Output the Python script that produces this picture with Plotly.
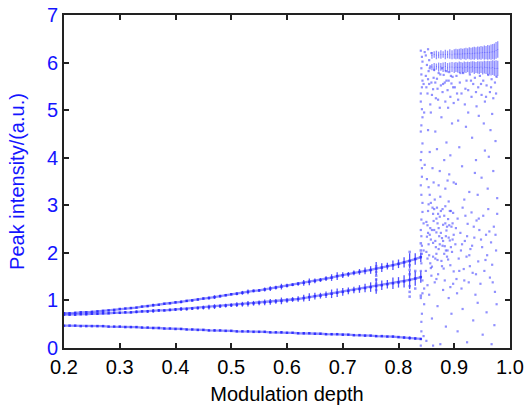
import plotly.graph_objects as go

# ---------------- data ----------------
branch_x = [round(0.20 + 0.01 * i, 2) for i in range(65)]

upper_y = [0.73, 0.73, 0.74, 0.75, 0.75, 0.76, 0.77, 0.78, 0.79, 0.80,
           0.82, 0.83, 0.84, 0.85, 0.87, 0.88, 0.90, 0.91, 0.93, 0.94,
           0.96, 0.97, 0.99, 1.00, 1.02, 1.04, 1.05, 1.07, 1.09, 1.11,
           1.13, 1.14, 1.16, 1.18, 1.20, 1.21, 1.23, 1.25, 1.27, 1.29,
           1.31, 1.33, 1.35, 1.37, 1.39, 1.41, 1.43, 1.46, 1.48, 1.51,
           1.53, 1.55, 1.58, 1.60, 1.62, 1.64, 1.67, 1.69, 1.72, 1.74,
           1.77, 1.80, 1.83, 1.87, 1.91]
upper_spread = [0.01] * 10 + \
    [0.01, 0.01, 0.01, 0.01, 0.01, 0.02, 0.03, 0.01, 0.01, 0.01,
     0.02, 0.03, 0.02, 0.02, 0.02, 0.02, 0.03, 0.04, 0.03, 0.02,
     0.02, 0.03, 0.04, 0.05, 0.03, 0.03, 0.04, 0.05, 0.04, 0.06,
     0.04, 0.03, 0.04, 0.06, 0.07, 0.05, 0.04, 0.05, 0.07, 0.08,
     0.06, 0.05, 0.05, 0.06, 0.07, 0.08, 0.14, 0.09, 0.07, 0.10,
     0.09, 0.11, 0.16, 0.12, 0.10]

middle_y = [0.70, 0.70, 0.70, 0.71, 0.71, 0.72, 0.72, 0.73, 0.73, 0.74,
            0.74, 0.75, 0.75, 0.76, 0.77, 0.77, 0.78, 0.79, 0.79, 0.80,
            0.81, 0.82, 0.82, 0.83, 0.84, 0.85, 0.86, 0.87, 0.88, 0.89,
            0.90, 0.91, 0.92, 0.93, 0.94, 0.95, 0.96, 0.97, 0.98, 0.99,
            1.00, 1.02, 1.03, 1.05, 1.07, 1.09, 1.10, 1.12, 1.14, 1.16,
            1.18, 1.20, 1.22, 1.24, 1.26, 1.28, 1.30, 1.32, 1.34, 1.36,
            1.38, 1.40, 1.43, 1.46, 1.49]
middle_spread = [0.01, 0.01, 0.01, 0.01, 0.02, 0.01, 0.02, 0.02, 0.01, 0.02,
                 0.02, 0.02, 0.02, 0.03, 0.02, 0.03, 0.04, 0.03, 0.02, 0.03,
                 0.03, 0.04, 0.03, 0.03, 0.03, 0.04, 0.05, 0.05, 0.04, 0.04,
                 0.04, 0.05, 0.05, 0.06, 0.05, 0.05, 0.06, 0.06, 0.05, 0.07,
                 0.05, 0.05, 0.06, 0.07, 0.08, 0.07, 0.06, 0.07, 0.09, 0.09,
                 0.08, 0.07, 0.07, 0.08, 0.09, 0.10, 0.16, 0.10, 0.09, 0.12,
                 0.11, 0.13, 0.19, 0.15, 0.12]

lower_y = [0.47, 0.47, 0.47, 0.46, 0.46, 0.46, 0.46, 0.46, 0.45, 0.45,
           0.45, 0.44, 0.44, 0.44, 0.43, 0.43, 0.42, 0.42, 0.41, 0.41,
           0.40, 0.40, 0.39, 0.39, 0.38, 0.38, 0.37, 0.37, 0.37, 0.36,
           0.36, 0.35, 0.35, 0.35, 0.34, 0.34, 0.34, 0.33, 0.33, 0.33,
           0.32, 0.32, 0.31, 0.31, 0.31, 0.30, 0.30, 0.29, 0.29, 0.29,
           0.28, 0.28, 0.27, 0.27, 0.26, 0.26, 0.25, 0.25, 0.24, 0.24,
           0.23, 0.22, 0.21, 0.20, 0.19]
lower_spread = [0.005, 0.0, 0.005, 0.0, 0.005, 0.0, 0.005, 0.01, 0.005, 0.01,
                0.01, 0.01, 0.01, 0.01, 0.01, 0.01, 0.02, 0.01, 0.01, 0.01,
                0.01, 0.02, 0.01, 0.01, 0.01, 0.01, 0.01, 0.02, 0.01, 0.01,
                0.01, 0.01, 0.01, 0.02, 0.01, 0.01, 0.01, 0.01, 0.01, 0.02,
                0.01, 0.01, 0.01, 0.02, 0.01, 0.01, 0.01, 0.01, 0.02, 0.01,
                0.02, 0.01, 0.01, 0.01, 0.02, 0.01, 0.02, 0.01, 0.01, 0.02,
                0.01, 0.02, 0.03, 0.02, 0.02]

streak_x = [0.76, 0.76, 0.76, 0.76, 0.76, 0.76, 0.82, 0.82, 0.82, 0.82, 0.82,
            0.82, 0.82, 0.83, 0.83, 0.84, 0.84, 0.84]
streak_y = [1.22, 1.35, 1.44, 1.52, 1.60, 1.72, 1.08, 1.18, 1.30, 1.55, 1.64,
            1.74, 2.02, 1.25, 1.62, 1.10, 2.05, 2.20]

# chaotic region: individual dots (x, y)
chaos_pts = [
    (0.840, 0.05), (0.841, 0.35), (0.842, 0.72), (0.840, 1.05), (0.843, 1.42), (0.841, 1.78),
    (0.842, 2.15), (0.840, 2.48), (0.843, 2.86), (0.841, 3.22), (0.842, 3.60), (0.840, 3.95),
    (0.843, 4.30), (0.841, 4.68), (0.842, 5.02), (0.840, 5.35), (0.843, 5.62), (0.841, 5.88),
    (0.842, 6.12), (0.845, 0.25), (0.846, 1.25), (0.845, 2.62), (0.847, 3.85), (0.846, 4.95),
    (0.845, 5.55), (0.847, 6.22), (0.846, 0.92), (0.845, 2.05), (0.840, 4.55), (0.841, 2.70),
    (0.841, 0.55), (0.843, 1.15), (0.840, 1.62), (0.842, 1.98), (0.841, 2.35), (0.843, 3.05),
    (0.840, 3.42), (0.842, 3.78), (0.841, 4.12), (0.843, 4.85), (0.840, 5.18), (0.842, 5.48),
    (0.841, 5.75), (0.843, 6.02), (0.840, 6.25),
    (0.849, 1.62), (0.851, 2.34), (0.853, 2.88), (0.855, 1.95), (0.857, 2.52), (0.858, 3.05),
    (0.860, 1.71), (0.862, 2.21), (0.863, 2.67), (0.865, 3.12), (0.866, 1.88), (0.868, 2.43),
    (0.869, 2.95), (0.871, 1.55), (0.872, 2.08), (0.874, 2.76), (0.875, 3.18), (0.877, 1.83),
    (0.878, 2.31), (0.880, 2.59), (0.881, 1.67), (0.883, 2.14), (0.884, 2.98), (0.886, 2.47),
    (0.887, 1.92), (0.889, 2.71), (0.890, 3.08), (0.892, 2.26), (0.893, 1.74), (0.895, 2.55),
    (0.896, 2.02), (0.898, 2.84), (0.899, 1.61), (0.850, 2.65), (0.854, 2.18), (0.859, 1.52),
    (0.861, 2.95), (0.867, 2.12), (0.870, 2.62), (0.876, 2.42), (0.879, 2.92), (0.882, 1.98),
    (0.885, 2.35), (0.888, 2.05), (0.891, 2.58), (0.894, 2.88), (0.897, 2.28), (0.852, 1.88),
    (0.856, 3.22), (0.864, 2.48), (0.853, 2.42), (0.857, 1.78), (0.862, 2.82), (0.868, 1.98),
    (0.873, 2.35), (0.879, 2.15), (0.884, 2.62), (0.889, 1.86), (0.858, 2.28), (0.871, 2.82),
    (0.850, 2.02), (0.852, 2.58), (0.854, 3.02), (0.856, 2.38), (0.858, 1.68), (0.860, 2.48),
    (0.862, 1.92), (0.864, 2.92), (0.866, 2.25), (0.868, 2.72), (0.870, 1.85), (0.872, 2.52),
    (0.874, 2.18), (0.876, 2.88), (0.878, 1.72), (0.880, 2.25), (0.882, 2.78), (0.885, 2.05),
    (0.887, 2.55), (0.890, 2.32), (0.892, 2.88), (0.894, 2.12), (0.897, 2.62), (0.899, 2.38),
    (0.851, 3.55), (0.856, 4.12), (0.861, 3.78), (0.866, 4.55), (0.872, 3.42), (0.877, 4.85),
    (0.882, 3.95), (0.886, 4.32), (0.891, 3.65), (0.896, 4.72), (0.858, 4.95), (0.869, 4.18),
    (0.884, 3.35), (0.893, 4.05), (0.899, 3.48), (0.854, 3.38), (0.863, 3.48), (0.874, 3.72),
    (0.888, 3.52), (0.853, 4.58),
    (0.849, 5.72), (0.852, 5.35), (0.854, 5.82), (0.857, 5.12), (0.859, 5.58), (0.862, 5.44),
    (0.864, 5.85), (0.867, 5.25), (0.869, 5.66), (0.872, 5.78), (0.874, 5.05), (0.876, 5.52),
    (0.879, 5.38), (0.881, 5.74), (0.884, 5.18), (0.886, 5.62), (0.888, 5.42), (0.891, 5.80),
    (0.893, 5.28), (0.895, 5.56), (0.897, 5.70), (0.899, 5.15), (0.863, 5.68), (0.878, 5.88),
    (0.889, 5.05), (0.855, 5.55), (0.870, 5.45), (0.883, 5.58), (0.850, 5.48), (0.853, 5.65),
    (0.856, 5.88), (0.860, 5.32), (0.866, 5.58), (0.871, 5.22), (0.875, 5.75), (0.880, 5.55),
    (0.885, 5.82), (0.890, 5.62), (0.894, 5.72), (0.898, 5.48),
    (0.849, 6.15), (0.851, 5.95), (0.853, 6.28), (0.855, 6.05), (0.857, 5.92), (0.859, 6.20),
    (0.850, 0.15), (0.855, 1.12), (0.860, 0.62), (0.865, 1.38), (0.870, 0.88), (0.875, 0.08),
    (0.880, 1.22), (0.885, 0.45), (0.890, 1.05), (0.895, 0.72), (0.898, 1.35), (0.862, 0.05),
    (0.852, 1.32), (0.868, 1.45), (0.883, 1.42), (0.893, 1.28),
    (0.902, 2.18), (0.904, 1.45), (0.906, 2.72), (0.908, 1.88), (0.911, 2.42), (0.913, 1.25),
    (0.915, 2.95), (0.917, 1.66), (0.919, 2.25), (0.922, 1.92), (0.924, 2.61), (0.926, 1.38),
    (0.929, 2.08), (0.931, 2.85), (0.933, 1.58), (0.936, 2.32), (0.938, 1.12), (0.940, 2.68),
    (0.943, 1.82), (0.945, 2.48), (0.947, 1.35), (0.950, 2.12), (0.952, 2.78), (0.954, 1.62),
    (0.957, 2.38), (0.959, 1.95), (0.961, 2.92), (0.964, 1.48), (0.966, 2.22), (0.968, 1.75),
    (0.971, 2.55), (0.973, 1.18), (0.975, 2.05), (0.977, 2.82), (0.905, 1.15), (0.912, 2.05),
    (0.920, 2.78), (0.928, 1.72), (0.935, 2.55), (0.948, 2.28), (0.903, 2.52), (0.909, 1.62),
    (0.914, 2.18), (0.918, 1.42), (0.923, 2.35), (0.927, 1.95), (0.932, 2.15), (0.939, 1.55),
    (0.944, 2.72), (0.956, 1.85), (0.963, 2.45), (0.969, 1.38), (0.974, 2.38),
    (0.903, 3.45), (0.909, 4.22), (0.914, 3.82), (0.921, 4.65), (0.927, 3.28), (0.932, 4.42),
    (0.939, 3.95), (0.944, 4.88), (0.949, 3.58), (0.955, 4.15), (0.960, 3.35), (0.965, 4.58),
    (0.970, 3.72), (0.974, 4.35), (0.977, 3.15), (0.918, 3.12), (0.937, 3.68), (0.953, 4.72),
    (0.962, 4.02), (0.925, 4.95), (0.907, 4.78), (0.942, 3.22), (0.968, 4.92),
    (0.901, 5.48), (0.904, 5.72), (0.907, 5.22), (0.910, 5.58), (0.913, 5.35), (0.916, 5.78),
    (0.919, 5.12), (0.922, 5.62), (0.925, 5.42), (0.928, 5.75), (0.931, 5.28), (0.934, 5.55),
    (0.937, 5.68), (0.940, 5.08), (0.943, 5.48), (0.946, 5.72), (0.949, 5.32), (0.952, 5.62),
    (0.955, 5.18), (0.958, 5.52), (0.961, 5.74), (0.964, 5.38), (0.967, 5.65), (0.970, 5.25),
    (0.973, 5.58), (0.976, 5.70), (0.905, 5.35), (0.911, 5.78), (0.920, 5.45), (0.930, 5.62),
    (0.939, 5.38), (0.948, 5.55), (0.957, 5.28), (0.966, 5.48), (0.975, 5.35),
    (0.906, 0.35), (0.915, 0.82), (0.923, 0.12), (0.934, 0.58), (0.942, 0.95), (0.951, 0.28),
    (0.958, 0.75), (0.967, 0.08), (0.972, 0.48), (0.976, 0.92),
]
chaos_x = [p[0] for p in chaos_pts]
chaos_y = [p[1] for p in chaos_pts]

band_x = [0.860, 0.864, 0.868, 0.872, 0.876, 0.880, 0.884, 0.888, 0.892,
          0.896, 0.900, 0.903, 0.906, 0.909, 0.912, 0.915, 0.918, 0.921,
          0.924, 0.927, 0.930, 0.933, 0.936, 0.939, 0.942, 0.945, 0.948,
          0.951, 0.954, 0.957, 0.960, 0.963, 0.966, 0.969, 0.972, 0.975, 0.978]
band1_lo = [6.08, 6.10, 6.07, 6.09, 6.08, 6.10, 6.07, 6.09, 6.08, 6.07, 6.08,
            6.07, 6.08, 6.07, 6.06, 6.08, 6.07, 6.06, 6.08, 6.07, 6.06, 6.07,
            6.06, 6.08, 6.06, 6.07, 6.06, 6.08, 6.06, 6.07, 6.06, 6.07, 6.06,
            6.07, 6.06, 6.08, 6.10]
band1_hi = [6.22, 6.24, 6.25, 6.23, 6.26, 6.24, 6.27, 6.25, 6.28, 6.26, 6.28,
            6.29, 6.28, 6.29, 6.30, 6.29, 6.30, 6.31, 6.30, 6.32, 6.31, 6.32,
            6.33, 6.32, 6.34, 6.33, 6.35, 6.34, 6.36, 6.35, 6.37, 6.36, 6.38,
            6.39, 6.40, 6.43, 6.45]
band2_lo = [5.84, 5.82, 5.85, 5.81, 5.83, 5.80, 5.82, 5.79, 5.81, 5.80, 5.78,
            5.80, 5.79, 5.78, 5.80, 5.77, 5.79, 5.78, 5.80, 5.77, 5.78, 5.79,
            5.76, 5.78, 5.77, 5.76, 5.78, 5.75, 5.77, 5.76, 5.74, 5.75, 5.73,
            5.74, 5.72, 5.70, 5.72]
band2_hi = [5.97, 5.99, 5.98, 6.00, 5.99, 6.00, 6.01, 5.99, 6.00, 6.01, 6.00,
            6.01, 6.00, 6.02, 6.01, 6.00, 6.02, 6.01, 6.02, 6.01, 6.02, 6.03,
            6.02, 6.01, 6.03, 6.02, 6.03, 6.02, 6.04, 6.03, 6.04, 6.03, 6.04,
            6.05, 6.04, 6.05, 6.04]

x_ticks = [0.2, 0.3, 0.4, 0.5, 0.6, 0.7, 0.8, 0.9, 1.0]
x_labels = ["0.2", "0.3", "0.4", "0.5", "0.6", "0.7", "0.8", "0.9", "1.0"]
y_ticks = [0, 1, 2, 3, 4, 5, 6, 7]

# ---------------- figure ----------------
BLUE = "rgba(35,35,255,0.8)"
LIGHT = "rgba(70,70,255,0.6)"

fig = go.Figure()

for ys, sp in [(upper_y, upper_spread), (middle_y, middle_spread), (lower_y, lower_spread)]:
    fig.add_trace(go.Scatter(
        x=branch_x, y=ys, mode="lines+markers",
        line=dict(color=LIGHT, width=2.3),
        marker=dict(color=BLUE, size=2.5, symbol="square"),
        error_y=dict(type="data", array=sp, visible=True, color=BLUE,
                     thickness=1.3, width=0),
        hoverinfo="skip", showlegend=False))

fig.add_trace(go.Scatter(
    x=streak_x, y=streak_y, mode="markers",
    marker=dict(color=LIGHT, size=2.5, symbol="square"),
    hoverinfo="skip", showlegend=False))

fig.add_trace(go.Scatter(
    x=chaos_x, y=chaos_y, mode="markers",
    marker=dict(color=LIGHT, size=2.2, symbol="square"),
    hoverinfo="skip", showlegend=False))

for lo, hi in [(band1_lo, band1_hi), (band2_lo, band2_hi)]:
    mid = [(a + b) / 2 for a, b in zip(lo, hi)]
    half = [(b - a) / 2 for a, b in zip(lo, hi)]
    fig.add_trace(go.Scatter(
        x=band_x, y=mid, mode="markers",
        marker=dict(color=LIGHT, size=1),
        error_y=dict(type="data", array=half, visible=True, color=LIGHT,
                     thickness=1.3, width=0),
        hoverinfo="skip", showlegend=False))

FONT = "Liberation Sans, Arial, sans-serif"
fig.update_layout(
    width=524, height=408,
    margin=dict(l=64, r=14, t=15, b=60),
    paper_bgcolor="white", plot_bgcolor="white",
    font=dict(family=FONT, size=20, color="black"),
    xaxis=dict(
        range=[0.2, 1.0], tickvals=x_ticks, ticktext=x_labels,
        ticks="inside", ticklen=5, tickwidth=1.5, tickcolor="#222",
        showline=True, linecolor="#222", linewidth=2, mirror="ticks",
        showgrid=False, zeroline=False, automargin=False,
        tickfont=dict(size=20, color="black"),
        title=dict(text="Modulation depth", font=dict(size=20, color="black"),
                   standoff=10),
    ),
    yaxis=dict(
        range=[0, 7], tickvals=y_ticks,
        ticks="inside", ticklen=5, tickwidth=1.5, tickcolor="#222",
        showline=True, linecolor="#222", linewidth=2, mirror="ticks",
        showgrid=False, zeroline=False, automargin=False,
        tickfont=dict(size=20, color="#1515ff"),
        title=dict(text="Peak intensity/(a.u.)", font=dict(size=20, color="#1515ff"),
                   standoff=17),
    ),
)

fig.write_html("out.html", config={"displayModeBar": False},
               post_script="document.body.style.margin='0';document.body.style.overflow='hidden';")
